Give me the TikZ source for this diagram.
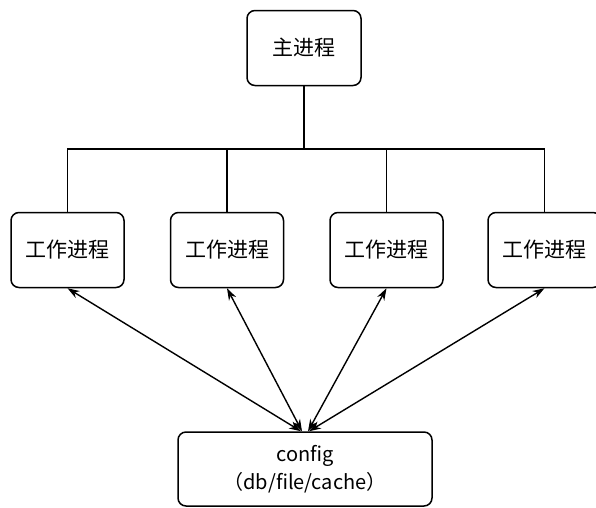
\documentclass[tikz,border=0pt]{standalone}
\usepackage{fontspec}
\setmainfont{Noto Sans CJK SC}
\usetikzlibrary{arrows.meta}
\tikzset{
  procbox/.style={draw, line width=1.5pt, rounded corners=8pt, minimum width=113pt, minimum height=75pt, inner sep=0pt},
}
\begin{document}
\begin{tikzpicture}[x=1pt, y=-1pt, line width=1.4pt, >={Stealth[length=12pt, width=8pt]}, every node/.style={font=\fontsize{21}{26}\selectfont}]
  \useasboundingbox (0,0) rectangle (596,507);
  \node[procbox, minimum width=114pt] (main) at (304,48) {主进程};
  \foreach \i/\x in {1/67.5, 2/227, 3/386.5, 4/544.5}
    \node[procbox] (w\i) at (\x,250) {工作进程};
  \node[procbox, minimum width=254pt, minimum height=74pt, align=center, font=\fontsize{20}{28}\selectfont] (cfg) at (305,469) {config\\（db/file/cache）};
  \coordinate (hub) at (304,149);
  \draw (main.south) -- (hub);
  \foreach \i in {1,...,4}
    \draw (w\i.north) |- (hub);
  \foreach \i/\s in {1/-4, 2/-3, 3/3, 4/4}
    \draw[<->] (w\i.south) -- ([xshift=\s pt]cfg.north);
\end{tikzpicture}
\end{document}
